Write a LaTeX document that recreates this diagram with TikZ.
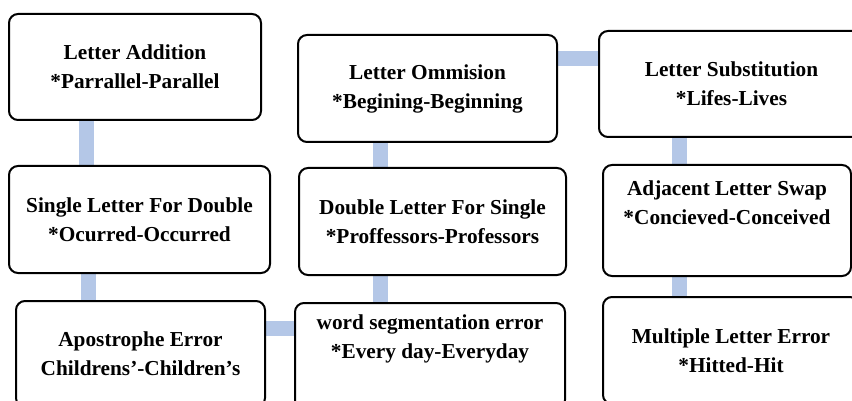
\documentclass[tikz,border=0pt]{standalone}
\usepackage{fontspec}
\setmainfont{Liberation Serif}
\usetikzlibrary{backgrounds}
\definecolor{linkblue}{RGB}{180,199,231}
\tikzset{
	errbox/.style={shape=rectangle, draw=black, line width=2pt, rounded corners=9pt, fill=white, align=center, inner sep=0pt, font=\bfseries\fontsize{21.3}{29}\selectfont},
	boxtext/.style={align=center, inner sep=0pt, font=\bfseries\fontsize{21.3}{29}\selectfont},
	link/.style={draw=linkblue, line width=15pt}
}

\begin{document}
\begin{tikzpicture}[x=1pt, y=-1pt]
	\useasboundingbox (0,0) rectangle (852,401);

	\node[errbox, minimum width=252pt, minimum height=106pt] (add)    at (135, 67)     {Letter Addition\\ {*}Parrallel-Parallel};
	\node[errbox, minimum width=259pt, minimum height=107pt] (omit)   at (427.5, 88.5) {Letter Ommision\\ {*}Begining-Beginning};
	\node[errbox, minimum width=265pt, minimum height=106pt] (subst)  at (731.5, 84)   {Letter Substitution\\ {*}Lifes-Lives};
	\node[errbox, minimum width=261pt, minimum height=107pt] (single) at (139.5, 219.5) {Single Letter For Double\\ {*}Ocurred-Occurred};
	\node[errbox, minimum width=267pt, minimum height=107pt] (double) at (432.5, 221.5) {Double Letter For Single\\ {*}Proffessors-Professors};
	\node[errbox, minimum width=248pt, minimum height=111pt,
		label={[boxtext, yshift=18pt]center:{Adjacent Letter Swap\\ {*}Concieved-Conceived}}] (swap) at (727, 220.5) {};
	\node[errbox, minimum width=249pt, minimum height=106pt] (apos)   at (140.5, 354)  {Apostrophe Error\\ Childrens’-Children’s};
	\node[errbox, minimum width=270pt, minimum height=106pt,
		label={[boxtext, yshift=17pt]center:{word segmentation error\\ {*}Every day-Everyday}}] (seg) at (430, 356) {};
	\node[errbox, minimum width=256pt, minimum height=107pt] (multi)  at (731, 350.5)  {Multiple Letter Error\\ {*}Hitted-Hit};

	% connectors behind the boxes
	\begin{scope}[on background layer]
	\path[link] (add.south -| 86,0) -- (single.north -| 86,0);
	\path[link] (single.south -| 88,0) -- (apos.north -| 88,0);
	\path[link] (omit.south -| 380,0) -- (double.north -| 380,0);
	\path[link] (double.south -| 380,0) -- (seg.north -| 380,0);
	\path[link] (omit.east |- 0,59) -- (subst.west |- 0,59);
	\path[link] (apos.east |- 0,328) -- (seg.west |- 0,328);
	\path[link] (subst.south -| 679,0) -- (swap.north -| 679,0);
	\path[link] (swap.south -| 679,0) -- (multi.north -| 679,0);
	\end{scope}
\end{tikzpicture}
\end{document}
